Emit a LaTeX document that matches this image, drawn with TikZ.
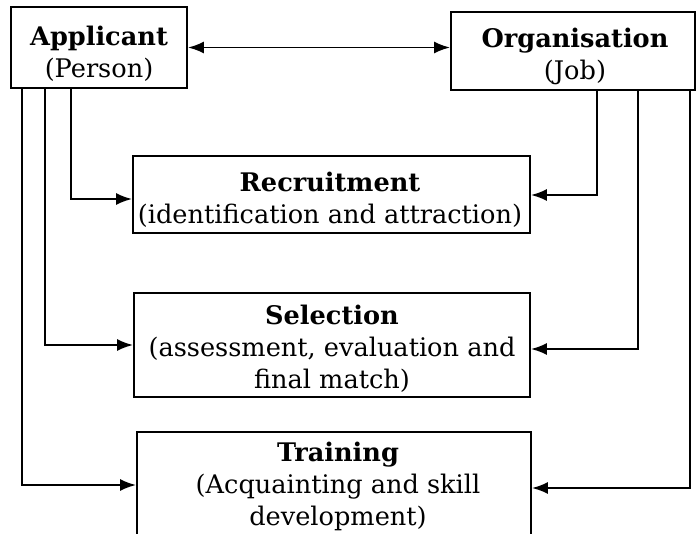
\documentclass[tikz,border=0pt]{standalone}
\usepackage{fontspec}
\setmainfont{DejaVu Serif}
\usetikzlibrary{arrows.meta}
\begin{document}
\tikzset{
  box/.style={draw, line width=1.9pt, inner sep=0pt},
  txt/.style={align=center, font=\fontsize{25.6}{32}\selectfont, inner sep=0pt},
  ln/.style={line width=1.9pt},
  arr/.style={ln, -{Latex[length=16pt,width=12pt]}},
  darr/.style={ln, {Latex[length=16pt,width=12pt]}-{Latex[length=16pt,width=12pt]}}
}
\begin{tikzpicture}[x=1pt,y=-1pt]
\clip (0,0) rectangle (699,533);
% boxes
\node[box, minimum width=176pt, minimum height=81pt] (app) at (99,47.5) {};
\node[txt] (appt) at (99,54) {\textbf{Applicant}\\(Person)};
\node[box, minimum width=244pt, minimum height=78pt] (org) at (573,51) {};
\node[txt] (orgt) at (575,56.5) {\textbf{Organisation}\\(Job)};
\node[box, minimum width=397pt, minimum height=77pt] (rec) at (331.5,194.5) {};
\node[txt] (rect) at (330,200) {\textbf{Recruitment}\\(identification and attraction)};
\node[box, minimum width=396pt, minimum height=104pt] (sel) at (332,345) {};
\node[txt] (selt) at (332,349) {\textbf{Selection}\\(assessment, evaluation and\\final match)};
\node[box, minimum width=394pt, minimum height=140pt] (trn) at (334,502) {};
\node[txt] (trnt) at (338,486) {\textbf{Training}\\(Acquainting and skill\\development)};
% guide coordinates
\coordinate (a1) at (22,0);
\coordinate (a2) at (45,0);
\coordinate (a3) at (71,0);
\coordinate (o1) at (597,0);
\coordinate (o2) at (638,0);
\coordinate (o3) at (690,0);
\coordinate (yrl) at (0,199);
\coordinate (yrr) at (0,195);
\coordinate (ysl) at (0,345);
\coordinate (ysr) at (0,349);
\coordinate (ytl) at (0,485);
\coordinate (ytr) at (0,488);
% connectors
\draw[darr] (app.east) -- (app.east -| org.west);
\draw[arr] (app.south -| a3) |- (rec.west |- yrl);
\draw[arr] (app.south -| a2) |- (sel.west |- ysl);
\draw[arr] (app.south -| a1) |- (trn.west |- ytl);
\draw[arr] (org.south -| o1) |- (rec.east |- yrr);
\draw[arr] (org.south -| o2) |- (sel.east |- ysr);
\draw[arr] (org.south -| o3) |- (trn.east |- ytr);
\end{tikzpicture}
\end{document}
